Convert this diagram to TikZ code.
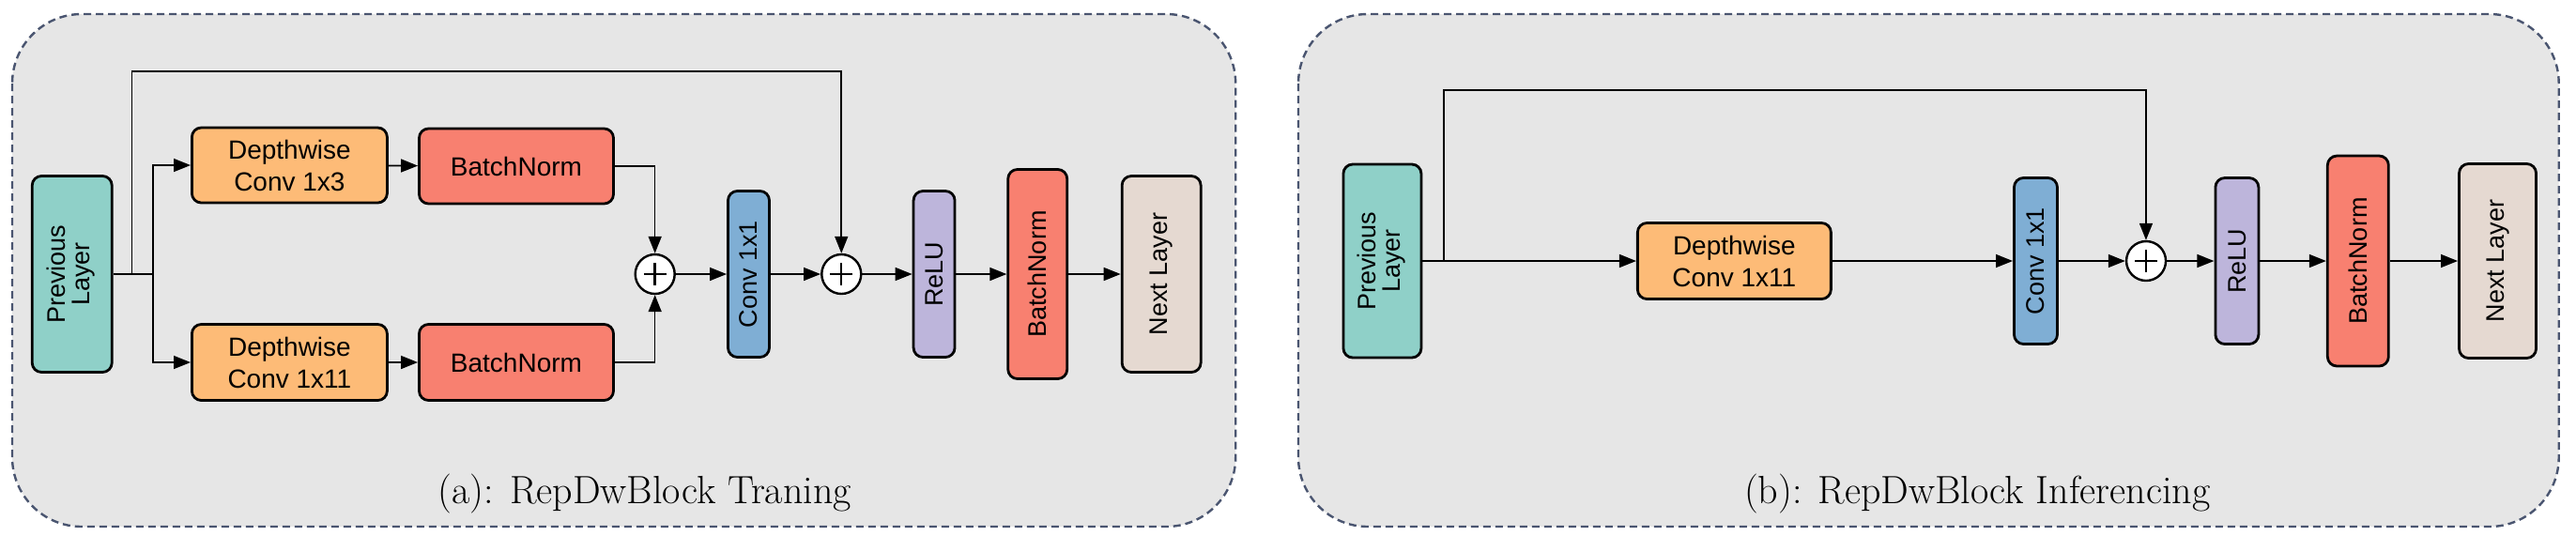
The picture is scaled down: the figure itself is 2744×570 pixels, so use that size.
\documentclass[tikz,border=0pt]{standalone}
\usepackage{fontspec}
\newfontfamily\sansf{Liberation Sans}
\usetikzlibrary{arrows.meta}
\definecolor{bgc}{HTML}{E6E6E6}
\definecolor{brd}{HTML}{4A5570}
\definecolor{teal}{HTML}{8FD0C8}
\definecolor{orng}{HTML}{FDBB77}
\definecolor{salm}{HTML}{F88070}
\definecolor{blu}{HTML}{7FAED4}
\definecolor{purp}{HTML}{BDB5DB}
\definecolor{beig}{HTML}{E5D9D1}
\begin{document}
\begin{tikzpicture}[x=0.5pt,y=-0.5pt,
  panel/.style={draw=brd,fill=bgc,line width=1.2pt,rounded corners=37pt,dash pattern=on 4pt off 2.5pt},
  box/.style={draw=black,line width=1.4pt,rounded corners=5pt,inner sep=0pt,align=center,font=\sansf\fontsize{14}{17}\selectfont},
  vbox/.style={box,font=\sansf\fontsize{13.5}{15}\selectfont},
  plus/.style={draw=black,line width=1.2pt,fill=white,circle,minimum size=21pt,inner sep=0pt},
  ar/.style={-{Triangle[length=9pt,width=7pt]},line width=0.8pt},
  ln/.style={line width=0.8pt},
  captxt/.style={font=\fontsize{21}{24}\selectfont}]
\useasboundingbox (0,0) rectangle (2744,570);
\fill[white] (0,0) rectangle (2744,570);
\begin{scope}[shift={(13,0)},xscale=0.988,shift={(-13,0)}]
\draw[panel] (13,15) rectangle (1332,561);
\node[vbox,fill=teal,minimum width=42.5pt,minimum height=104.5pt] (pa) at (77.5,292) {\rotatebox{90}{\begin{tabular}{@{}c@{}}Previous\\[-2pt]Layer\end{tabular}}};
\node[box,fill=orng,minimum width=104pt,minimum height=40pt] (dw1) at (312,176) {Depthwise\\Conv 1x3};
\node[box,fill=salm,minimum width=103.5pt,minimum height=40pt] (bn1) at (556.5,177) {BatchNorm};
\node[box,fill=orng,minimum width=104pt,minimum height=40.5pt] (dw2) at (312,386) {Depthwise\\Conv 1x11};
\node[box,fill=salm,minimum width=103.5pt,minimum height=40.5pt] (bn2) at (556.5,386) {BatchNorm};
\node[plus] (p1) at (706,292) {};
\node[vbox,fill=blu,minimum width=22pt,minimum height=88.5pt] (cv) at (807,292) {\rotatebox{90}{Conv 1x1}};
\node[plus] (p2) at (907,292) {};
\node[vbox,fill=purp,minimum width=22pt,minimum height=88.5pt] (rl) at (1007,292) {\rotatebox{90}{ReLU}};
\node[vbox,fill=salm,minimum width=31.5pt,minimum height=111.5pt] (bn3) at (1118.5,292) {\rotatebox{90}{BatchNorm}};
\node[vbox,fill=beig,minimum width=42pt,minimum height=104.5pt] (na) at (1252,292) {\rotatebox{90}{Next Layer}};
\foreach \p in {p1,p2}{\draw[line width=1.2pt] (\p.center)+(-12,0) -- +(12,0) (\p.center)+(0,-12) -- +(0,12);}
\coordinate (sa) at (165,292);
\coordinate (ka) at (142,292);
\coordinate (ta) at (142,76);
\draw[ln] (pa.east) -- (sa);
\draw[ar] (sa) |- (dw1.west);
\draw[ar] (sa) |- (dw2.west);
\draw[ar] (dw1) -- (bn1);
\draw[ar] (dw2) -- (bn2);
\draw[ar] (bn1.east) -| (p1.north);
\draw[ar] (bn2.east) -| (p1.south);
\draw[ar] (p1) -- (cv);
\draw[ar] (cv) -- (p2);
\draw[ar] (ka) -- (ta) -| (p2.north);
\draw[ar] (p2) -- (rl);
\draw[ar] (rl) -- (bn3);
\draw[ar] (bn3) -- (na);
\node[captxt] (ca) at (695,526) {(a): RepDwBlock Traning};
\end{scope}
\begin{scope}[shift={(1383,0)},xscale=0.988,shift={(-1383,0)}]
\draw[panel] (1383,15) rectangle (2742,561);
\node[vbox,fill=teal,minimum width=41.5pt,minimum height=103pt] (pb) at (1473.5,278) {\rotatebox{90}{\begin{tabular}{@{}c@{}}Previous\\[-2pt]Layer\end{tabular}}};
\node[box,fill=orng,minimum width=103pt,minimum height=40.5pt] (dwb) at (1853,278) {Depthwise\\Conv 1x11};
\node[vbox,fill=blu,minimum width=23pt,minimum height=88.5pt] (cvb) at (2178,278) {\rotatebox{90}{Conv 1x1}};
\node[plus] (pb1) at (2297,278) {};
\draw[line width=1.2pt] (pb1.center)+(-12,0) -- +(12,0) (pb1.center)+(0,-12) -- +(0,12);
\node[vbox,fill=purp,minimum width=23pt,minimum height=88.5pt] (rlb) at (2395,278) {\rotatebox{90}{ReLU}};
\node[vbox,fill=salm,minimum width=32.5pt,minimum height=112pt] (bnb) at (2525.5,278) {\rotatebox{90}{BatchNorm}};
\node[vbox,fill=beig,minimum width=41pt,minimum height=103.5pt] (nb) at (2676,278) {\rotatebox{90}{Next Layer}};
\coordinate (kb) at (1540,278);
\coordinate (tb) at (1540,96);
\draw[ar] (pb) -- (dwb);
\draw[ar] (dwb) -- (cvb);
\draw[ar] (cvb) -- (pb1);
\draw[ar] (kb) -- (tb) -| (pb1.north);
\draw[ar] (pb1) -- (rlb);
\draw[ar] (rlb) -- (bnb);
\draw[ar] (bnb) -- (nb);
\node[captxt] (cb) at (2115,526) {(b): RepDwBlock Inferencing};
\end{scope}
\end{tikzpicture}
\end{document}
